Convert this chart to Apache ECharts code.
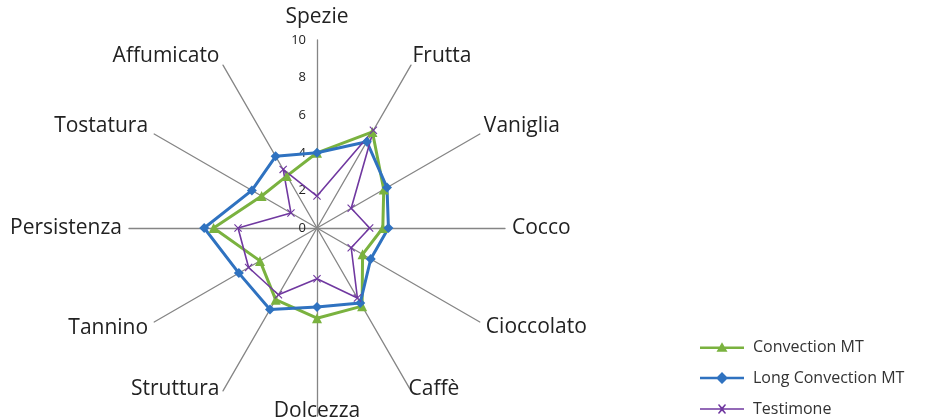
<!DOCTYPE html>
<html>
<head>
<meta charset="utf-8">
<script src="https://cdn.jsdelivr.net/npm/echarts@6/dist/echarts.min.js"></script>
<style>html,body{margin:0;padding:0;background:#fff}#c{width:925px;height:420px}</style>
</head>
<body>
<div id="c"></div>
<script>
// clockwise from top
const categories = ['Spezie','Frutta','Vaniglia','Cocco','Cioccolato','Caffè','Dolcezza','Struttura','Tannino','Persistenza','Tostatura','Affumicato'];
const convectionMT = [4.0, 5.9, 4.1, 3.5, 2.8, 4.8, 4.8, 4.4, 3.5, 5.5, 3.4, 3.2];
const longConvectionMT = [4.0, 5.3, 4.3, 3.8, 3.3, 4.6, 4.2, 5.0, 4.8, 6.0, 4.0, 4.4];
const testimone = [1.7, 6.0, 2.1, 2.8, 2.1, 4.3, 2.7, 4.1, 4.2, 4.2, 1.6, 3.6];
const seriesNames = ['Convection MT', 'Long Convection MT', 'Testimone'];
const axisMax = 10;

// ECharts places indicators counter-clockwise; reorder so they read clockwise
function ccw(arr){ return [arr[0]].concat(arr.slice(1).reverse()); }

const FONT = '"Open Sans", Lato, sans-serif';
// label nudges (styling only): vertical shift in px (positive = up) and padding for top/bottom labels
const nameShift = {
  'Frutta': 3, 'Affumicato': 3, 'Vaniglia': 4, 'Tostatura': 4,
  'Caffè': 8, 'Struttura': 8, 'Cioccolato': -2, 'Tannino': -3
};
const namePad = {'Spezie': [0,0,5,0], 'Dolcezza': [-22,0,0,0], 'Caffè': [0,0,0,-6], 'Frutta': [0,0,0,-2], 'Vaniglia': [0,0,0,-2]};

const indicators = ccw(categories).map((n, i) => {
  const ind = {
    name: n, min: 0, max: axisMax,
    axisLabel: i === 0 ? {show: true, color: '#222', fontSize: 13, fontFamily: FONT, margin: 11} : {show: false}
  };
  const ts = {};
  if (namePad[n]) ts.padding = namePad[n];
  if (nameShift[n]) ts.lineHeight = Math.abs(nameShift[n]) * 2;
  ind.nameTextStyle = ts;
  return ind;
});

const xPath = 'path://M0,1 L1,0 L5,4 L9,0 L10,1 L6,5 L10,9 L9,10 L5,6 L1,10 L0,9 L4,5 Z';
const colors = ['#7AB23F', '#2F72C0', '#7038A0'];
// legend icons: line + marker, in a 44x14 box
const iconTri = 'path://M0,5.8 L44,5.8 L44,8.2 L0,8.2 Z M22,1.5 L27.5,11 L16.5,11 Z';
const iconDia = 'path://M0,5.8 L44,5.8 L44,8.2 L0,8.2 Z M22,1 L28,7 L22,13 L16,7 Z';
const iconX = 'path://M0,6.2 L44,6.2 L44,7.8 L0,7.8 Z M18,3 L19,2 L22,5.3 L25,2 L26,3 L22.9,7 L26,11 L25,12 L22,8.7 L19,12 L18,11 L21.1,7 Z';

const chart = echarts.init(document.getElementById('c'), null, {renderer: 'canvas'});
chart.setOption({
  animation: false,
  color: colors,
  legend: {
    orient: 'vertical', left: 700, top: 339, padding: 0,
    itemWidth: 44, itemHeight: 14, itemGap: 15,
    textStyle: {fontSize: 16, color: '#333', fontFamily: FONT, padding: [0, 0, 0, 4]},
    data: [
      {name: seriesNames[0], icon: iconTri},
      {name: seriesNames[1], icon: iconDia},
      {name: seriesNames[2], icon: iconX}
    ]
  },
  radar: {
    center: [317, 228], radius: 188,
    startAngle: 90,
    splitNumber: 5,
    indicator: indicators,
    nameGap: 7,
    axisName: {
      color: '#222', fontSize: 21, fontFamily: FONT,
      formatter: function (name) {
        const s = nameShift[name];
        if (!s) return name;
        return s > 0 ? name + '\n ' : ' \n' + name;
      }
    },
    axisLine: {show: true, lineStyle: {color: '#858585', width: 1.3}},
    axisTick: {show: false},
    axisLabel: {show: false},
    splitLine: {show: false},
    splitArea: {show: false}
  },
  series: [{
    type: 'radar',
    data: [
      {name: seriesNames[0], value: ccw(convectionMT), symbol: 'triangle', symbolSize: 10,
        lineStyle: {color: colors[0], width: 3}, itemStyle: {color: colors[0]}},
      {name: seriesNames[1], value: ccw(longConvectionMT), symbol: 'diamond', symbolSize: 10,
        lineStyle: {color: colors[1], width: 3}, itemStyle: {color: colors[1]}},
      {name: seriesNames[2], value: ccw(testimone), symbol: xPath, symbolSize: 8,
        lineStyle: {color: colors[2], width: 1.6}, itemStyle: {color: colors[2]}}
    ]
  }]
});
</script>
</body>
</html>
